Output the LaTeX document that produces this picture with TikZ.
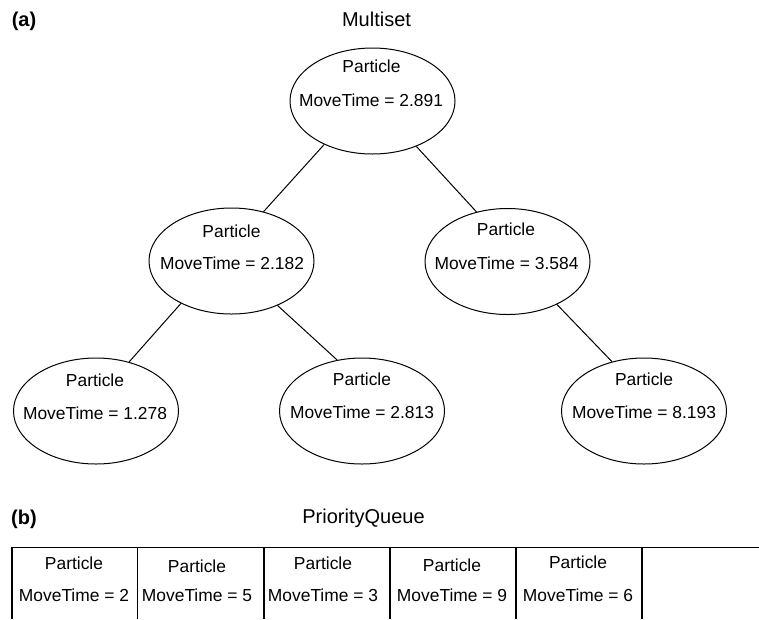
\documentclass[tikz,border=0pt]{standalone}
\usepackage{fontspec}
\setmainfont{Liberation Sans}
\usetikzlibrary{shapes.geometric}
\begin{document}
\begin{tikzpicture}[x=1pt,y=-1pt,
  lbl/.style={font=\fontsize{17.4}{20}\selectfont, inner sep=0pt, text height=12.46pt, text depth=0pt, anchor=center},
  ttl/.style={font=\fontsize{20}{24}\selectfont, inner sep=0pt, text height=14.3pt, text depth=0pt, anchor=center},
  hd/.style={font=\fontsize{20}{24}\selectfont\bfseries, inner sep=0pt, text height=14.3pt, text depth=0pt, anchor=center},
  ell/.style={draw=black, line width=1pt, ellipse, inner sep=0pt, minimum width=165pt, minimum height=106pt},
  edge/.style={draw=black, line width=1pt},
  qline/.style={draw=black, line width=1.6pt}]
\useasboundingbox (0,0) rectangle (759,619);
% headings
\node[hd] (a) at (24,19) {(a)};
\node[ttl] (ms) at (376.5,19) {Multiset};
\node[hd] (b) at (24,517) {(b)};
\node[ttl] (pq) at (363.5,516) {PriorityQueue};
% ellipses
\node[ell] (r) at (372.5,101) {};
\node[ell] (l) at (231.5,261) {};
\node[ell] (rr) at (507.5,261.5) {};
\node[ell] (ll) at (96,411) {};
\node[ell] (lr) at (362,411) {};
\node[ell] (rrr) at (644,411) {};
% texts
\node[lbl] (r1) at (371.5,66.5) {Particle};
\node[lbl] (r2) at (371,100) {MoveTime = 2.891};
\node[lbl] (l1) at (231.5,231) {Particle};
\node[lbl] (l2) at (232,263.5) {MoveTime = 2.182};
\node[lbl] (rr1) at (506,229) {Particle};
\node[lbl] (rr2) at (506.5,263) {MoveTime = 3.584};
\node[lbl] (ll1) at (95,380) {Particle};
\node[lbl] (ll2) at (95,413.5) {MoveTime = 1.278};
\node[lbl] (lr1) at (362,379) {Particle};
\node[lbl] (lr2) at (362,412.5) {MoveTime = 2.813};
\node[lbl] (rrr1) at (644,379) {Particle};
\node[lbl] (rrr2) at (644,412.5) {MoveTime = 8.193};
% edges
\draw[edge] (r.222) -- (l.57);
\draw[edge] (r.314) -- (rr.122);
\draw[edge] (l.220) -- (ll.56);
\draw[edge] (l.316) -- (lr.116);
\draw[edge] (rr.319) -- (rrr.123);
% queue
\coordinate (qs) at (11,547.5);
\coordinate (qe) at (759,547.5);
\draw[edge] (qs) -- (qe);
\foreach \x [count=\i] in {12,137.5,264,390,515.7,641.7} {
  \coordinate (t\i) at (\x,547.5);
  \coordinate (u\i) at (\x,619);
  \draw[qline] (t\i) -- (u\i);
}
\foreach \x/\y/\v [count=\i] in {74/563.5/2,197/566/5,323/563.5/3,452/565.5/9,578/562.5/6} {
  \node[lbl] (p\i) at (\x,\y) {Particle};
  \node[lbl] (m\i) at (\x,595) {MoveTime = \v};
}
\end{tikzpicture}
\end{document}
